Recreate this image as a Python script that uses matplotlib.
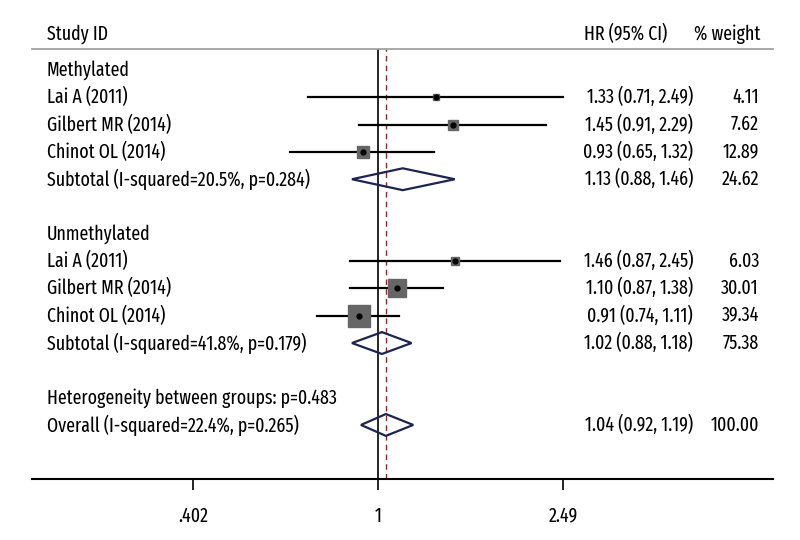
import numpy as np
import matplotlib
matplotlib.use("Agg")
from matplotlib import pyplot as plt
from matplotlib.patches import Polygon

plt.rcParams['font.family'] = ['Fira Sans Extra Condensed', 'Fira Sans Condensed', 'PT Sans Narrow',
                               'Roboto Condensed', 'Asap Condensed', 'DejaVu Sans']

studies = ["Lai A (2011)", "Gilbert MR (2014)", "Chinot OL (2014)"]

meth_hr = [1.33, 1.45, 0.93]
meth_lo = [0.71, 0.91, 0.65]
meth_hi = [2.49, 2.29, 1.32]
meth_w = [4.11, 7.62, 12.89]
meth_sub = (1.13, 0.88, 1.46, 24.62)
meth_sub_label = "Subtotal (I-squared=20.5%, p=0.284)"

unmeth_hr = [1.46, 1.10, 0.91]
unmeth_lo = [0.87, 0.87, 0.74]
unmeth_hi = [2.45, 1.38, 1.11]
unmeth_w = [6.03, 30.01, 39.34]
unmeth_sub = (1.02, 0.88, 1.18, 75.38)
unmeth_sub_label = "Subtotal (I-squared=41.8%, p=0.179)"

het_label = "Heterogeneity between groups: p=0.483"
overall = (1.04, 0.92, 1.19, 100.00)
overall_label = "Overall (I-squared=22.4%, p=0.265)"

xticks = [0.402, 1, 2.49]
xtick_labels = [".402", "1", "2.49"]

# build rows: (label, kind, values)
rows = [("Methylated", "head", None)]
for i, s in enumerate(studies):
    rows.append((s, "study", (meth_hr[i], meth_lo[i], meth_hi[i], meth_w[i])))
rows.append((meth_sub_label, "sub", meth_sub))
rows.append(("", "blank", None))
rows.append(("Unmethylated", "head", None))
for i, s in enumerate(studies):
    rows.append((s, "study", (unmeth_hr[i], unmeth_lo[i], unmeth_hi[i], unmeth_w[i])))
rows.append((unmeth_sub_label, "sub", unmeth_sub))
rows.append(("", "blank", None))
rows.append((het_label, "head", None))
rows.append((overall_label, "sub", overall))

fig = plt.figure(figsize=(8, 5.4), dpi=100)
ax = fig.add_axes([32 / 800, 1 - 479 / 540, 741 / 800, 430 / 540])
ax.set_xscale("log")
ax.set_xlim(0.182, 7.0)
ax.set_ylim(14.98, -0.77)

fs = 14
navy = "#1b2452"
blend = matplotlib.transforms.blended_transform_factory(ax.transAxes, ax.transData)

for y, (label, kind, vals) in enumerate(rows):
    if label:
        ax.text(0.02, y, label, transform=blend, ha="left", va="center", fontsize=fs)
    if kind == "study":
        hr, lo, hi, w = vals
        ax.plot([lo, hi], [y, y], color="black", lw=1.6, zorder=2)
        side = 3.35 * np.sqrt(w) * 0.72
        ax.plot(hr, y, marker="s", ms=side, color="#666666", mec="#666666", zorder=3)
        ax.plot(hr, y, marker="o", ms=3.5, color="black", zorder=4)
    if kind == "sub":
        hr, lo, hi, w = vals
        h = 0.4
        ax.add_patch(Polygon([[lo, y], [hr, y - h], [hi, y], [hr, y + h]], closed=True,
                             fill=False, edgecolor=navy, lw=1.6, zorder=3))
    if kind in ("study", "sub"):
        hr, lo, hi, w = vals
        ax.text((693 - 32) / 741, y, f"{hr:.2f} ({lo:.2f}, {hi:.2f})", transform=blend,
                ha="right", va="center", fontsize=fs)
        ax.text((759 - 32) / 741, y, f"{w:.2f}", transform=blend,
                ha="right", va="center", fontsize=fs)

# headers
ax.text(0.02, -1.3, "Study ID", transform=blend, ha="left", va="center", fontsize=fs, clip_on=False)
ax.text((667 - 32) / 741, -1.3, "HR (95% CI)", transform=blend, ha="right", va="center", fontsize=fs, clip_on=False)
ax.text((760 - 32) / 741, -1.3, "% weight", transform=blend, ha="right", va="center", fontsize=fs, clip_on=False)

# reference lines
ax.axvline(1, color="black", lw=1.2, zorder=1)
ax.axvline(overall[0], color="#8b2a2a", lw=1.0, ls=(0, (4, 3)), zorder=1)

for s in ["left", "right"]:
    ax.spines[s].set_visible(False)
ax.spines["top"].set_color("#999999")
ax.spines["top"].set_linewidth(1.2)
ax.spines["bottom"].set_linewidth(1.5)
ax.set_yticks([])
ax.set_xticks(xticks)
ax.set_xticklabels(xtick_labels, fontsize=fs)
ax.xaxis.set_minor_locator(matplotlib.ticker.NullLocator())
ax.tick_params(axis="x", direction="out", length=8, width=1.2, pad=12)

fig.savefig("out.png", dpi=100)
